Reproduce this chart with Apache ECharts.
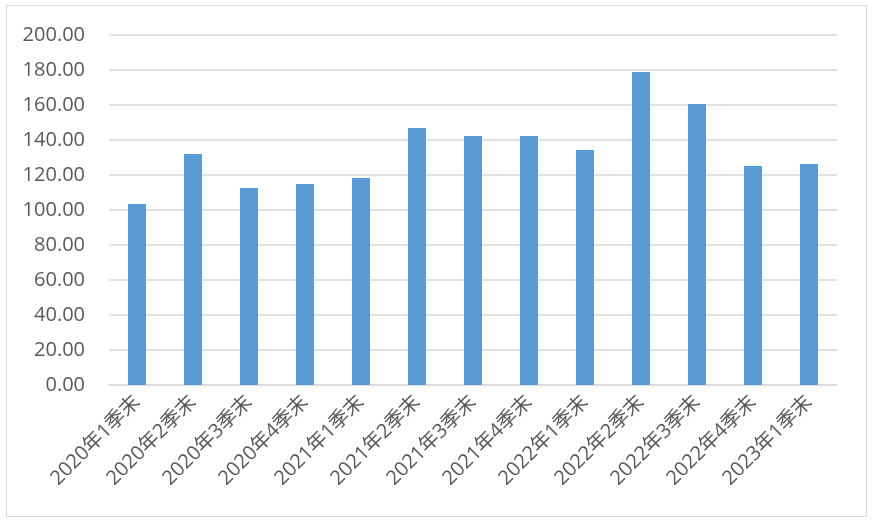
<!DOCTYPE html>
<html><head><meta charset="utf-8">
<script src="https://cdn.jsdelivr.net/npm/echarts@6/dist/echarts.min.js"></script>
<style>html,body{margin:0;padding:0;background:#fff}#c{width:872px;height:528px}
#frame{position:absolute;left:6px;top:5px;width:861px;height:512px;border:1.5px solid #d9d9d9;box-sizing:border-box;pointer-events:none}</style>
</head><body><div id="c"></div><div id="frame"></div>
<script>
const categories = ['2020年1季末','2020年2季末','2020年3季末','2020年4季末','2021年1季末','2021年2季末','2021年3季末','2021年4季末','2022年1季末','2022年2季末','2022年3季末','2022年4季末','2023年1季末'];
const values = [103.4, 132.0, 112.6, 114.9, 118.3, 146.9, 142.3, 142.3, 134.3, 178.9, 160.6, 125.1, 126.3];
const yMin = 0, yMax = 200, yStep = 20;

const chart = echarts.init(document.getElementById('c'), null, {renderer:'canvas'});
const font = "'Open Sans','Noto Sans CJK SC',sans-serif";
chart.setOption({
  animation:false,
  grid:{left:109,right:35,top:35,bottom:143,containLabel:false},
  xAxis:{type:'category',data:categories,
    axisLine:{show:true,lineStyle:{color:'#d9d9d9',width:1.5}},
    axisTick:{show:false},
    axisLabel:{rotate:45,color:'#595959',fontSize:20,fontFamily:font,margin:14,interval:0}},
  yAxis:{type:'value',min:yMin,max:yMax,interval:yStep,
    axisLine:{show:false},axisTick:{show:false},
    splitLine:{lineStyle:{color:'#d9d9d9',width:1.5}},
    axisLabel:{color:'#595959',fontSize:20,fontFamily:font,margin:24,formatter:v=>v.toFixed(2)}},
  series:[{type:'bar',data:values,barWidth:18,itemStyle:{color:'#5b9bd5'}}]
});
</script></body></html>
